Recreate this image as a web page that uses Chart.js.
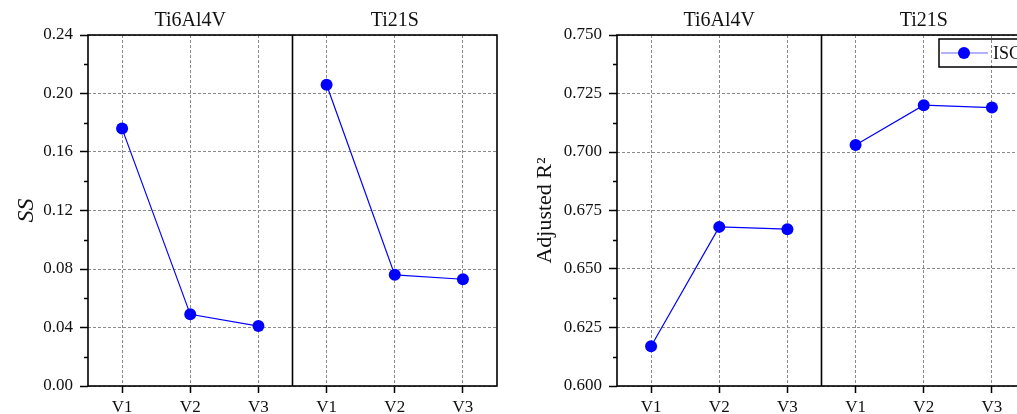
<!DOCTYPE html>
<html>
<head>
<meta charset="utf-8">
<script src="https://cdn.jsdelivr.net/npm/chart.js@4/dist/chart.umd.min.js"></script>
<style>
    html, body { margin: 0; padding: 0; background: #fff; overflow: hidden; width: 1017px; height: 414px; }
    #ss-chart { position: absolute; left: 0; top: 0; }
    #r2-chart { position: absolute; left: 520px; top: 0; }
</style>
</head>
<body>
<canvas id="ss-chart" width="510" height="414"></canvas>
<canvas id="r2-chart" width="530" height="414"></canvas>
<script>
// Data
const panels = ['Ti6Al4V', 'Ti21S'];
const versions = ['V1', 'V2', 'V3'];
const seriesName = 'ISC';
const ssTi6Al4V = [0.176, 0.049, 0.041];
const ssTi21S = [0.206, 0.076, 0.073];
const r2Ti6Al4V = [0.617, 0.668, 0.667];
const r2Ti21S = [0.703, 0.720, 0.719];
const ssAxis = { min: 0, max: 0.24, step: 0.04, digits: 2 };
const r2Axis = { min: 0.6, max: 0.75, step: 0.025, digits: 3 };

const SERIF = '"Liberation Serif", "DejaVu Serif", serif';
const BLUE = '#0000ff';
const GRID = '#8a8a8a';

/**
 * Draws the frame, panel divider, panel titles, minor y ticks and (optionally) legend.
 */
const panelPlugin = {
    id: 'panels',
    afterDraw(chart, args, opts) {
        const { ctx, chartArea: a, scales: { x, y } } = chart;
        const n = versions.length;
        const divider = (x.getPixelForTick(n - 1) + x.getPixelForTick(n)) / 2;
        ctx.save();

        // minor ticks halfway between major ticks
        ctx.strokeStyle = '#000';
        ctx.lineWidth = 1.5;
        for (let i = 0; i < y.ticks.length - 1; i++) {
            const py = Math.round(y.getPixelForValue((y.ticks[i].value + y.ticks[i + 1].value) / 2)) + 0.5;
            ctx.beginPath();
            ctx.moveTo(a.left - 4, py);
            ctx.lineTo(a.left, py);
            ctx.stroke();
        }

        // frame + divider between the two alloys
        ctx.lineWidth = 1.6;
        ctx.strokeRect(a.left, a.top, a.right - a.left, a.bottom - a.top);
        ctx.beginPath();
        ctx.moveTo(divider, a.top);
        ctx.lineTo(divider, a.bottom);
        ctx.stroke();

        // panel titles
        ctx.fillStyle = '#111';
        ctx.font = '20px ' + SERIF;
        ctx.textAlign = 'center';
        ctx.textBaseline = 'alphabetic';
        ctx.fillText(panels[0], (a.left + divider) / 2, a.top - 9);
        ctx.fillText(panels[1], (divider + a.right) / 2, a.top - 9);

        // legend box
        if (opts.legend) {
            const bx = a.right - 87, by = a.top + 4;
            ctx.lineWidth = 1.5;
            ctx.strokeStyle = '#000';
            ctx.strokeRect(bx, by, 120, 28);
            const ly = by + 14;
            ctx.strokeStyle = 'rgba(60,60,255,0.8)';
            ctx.lineWidth = 1.2;
            ctx.beginPath();
            ctx.moveTo(bx + 2, ly);
            ctx.lineTo(bx + 49, ly);
            ctx.stroke();
            ctx.fillStyle = BLUE;
            ctx.beginPath();
            ctx.arc(bx + 25, ly, 6, 0, Math.PI * 2);
            ctx.fill();
            ctx.fillStyle = '#111';
            ctx.font = '18px ' + SERIF;
            ctx.textAlign = 'left';
            ctx.textBaseline = 'middle';
            ctx.fillText(chart.data.datasets[0].label, bx + 54, ly + 1);
        }
        ctx.restore();
    }
};

function makeChart(canvasId, values, axis, yTitle, italic, opt) {
    const labels = [...versions, ...versions];
    return new Chart(document.getElementById(canvasId), {
        type: 'line',
        data: {
            labels: labels,
            datasets: [{
                label: seriesName,
                data: values,
                borderColor: BLUE,
                backgroundColor: BLUE,
                borderWidth: 1.2,
                pointRadius: 6,
                pointBorderWidth: 0,
                pointBackgroundColor: BLUE,
                tension: 0,
                // no line between the two alloys
                segment: {
                    borderColor: c => (c.p0DataIndex === versions.length - 1 ? 'rgba(0,0,0,0)' : undefined)
                }
            }]
        },
        options: {
            responsive: false,
            animation: false,
            layout: { padding: { left: 0, top: 35, right: opt.padRight, bottom: 0 } },
            plugins: {
                legend: { display: false },
                tooltip: { enabled: false },
                panels: { legend: opt.legend }
            },
            scales: {
                x: {
                    type: 'category',
                    offset: true,
                    border: { display: false, dash: [3, 2] },
                    grid: {
                        offset: false,
                        color: GRID,
                        lineWidth: 1,
                        tickLength: 7,
                        tickColor: '#000',
                        tickWidth: 1.5,
                        tickBorderDash: []
                    },
                    ticks: {
                        autoSkip: false,
                        maxRotation: 0,
                        padding: 4,
                        color: '#111',
                        font: { family: SERIF, size: 17 }
                    },
                    afterFit: s => { s.height = 28; }
                },
                y: {
                    min: axis.min,
                    max: axis.max,
                    border: { display: false, dash: [3, 2] },
                    grid: {
                        color: GRID,
                        lineWidth: 1,
                        tickLength: 8,
                        tickColor: '#000',
                        tickWidth: 1.5,
                        tickBorderDash: []
                    },
                    ticks: {
                        stepSize: axis.step,
                        padding: 7,
                        color: '#111',
                        font: { family: SERIF, size: 17 },
                        callback: v => Number(v).toFixed(axis.digits)
                    },
                    title: {
                        display: true,
                        text: yTitle,
                        color: '#111',
                        padding: { top: 12, bottom: 0 },
                        font: { family: SERIF, size: italic ? 24 : 22, style: italic ? 'italic' : 'normal' }
                    },
                    afterFit: s => { s.width = opt.axisWidth; }
                }
            }
        },
        plugins: [panelPlugin]
    });
}

makeChart('ss-chart', [...ssTi6Al4V, ...ssTi21S], ssAxis, 'SS', true,
    { padRight: 13, axisWidth: 88, legend: false });
makeChart('r2-chart', [...r2Ti6Al4V, ...r2Ti21S], r2Axis, 'Adjusted R\u00B2', false,
    { padRight: 24, axisWidth: 97, legend: true });
</script>
</body>
</html>
